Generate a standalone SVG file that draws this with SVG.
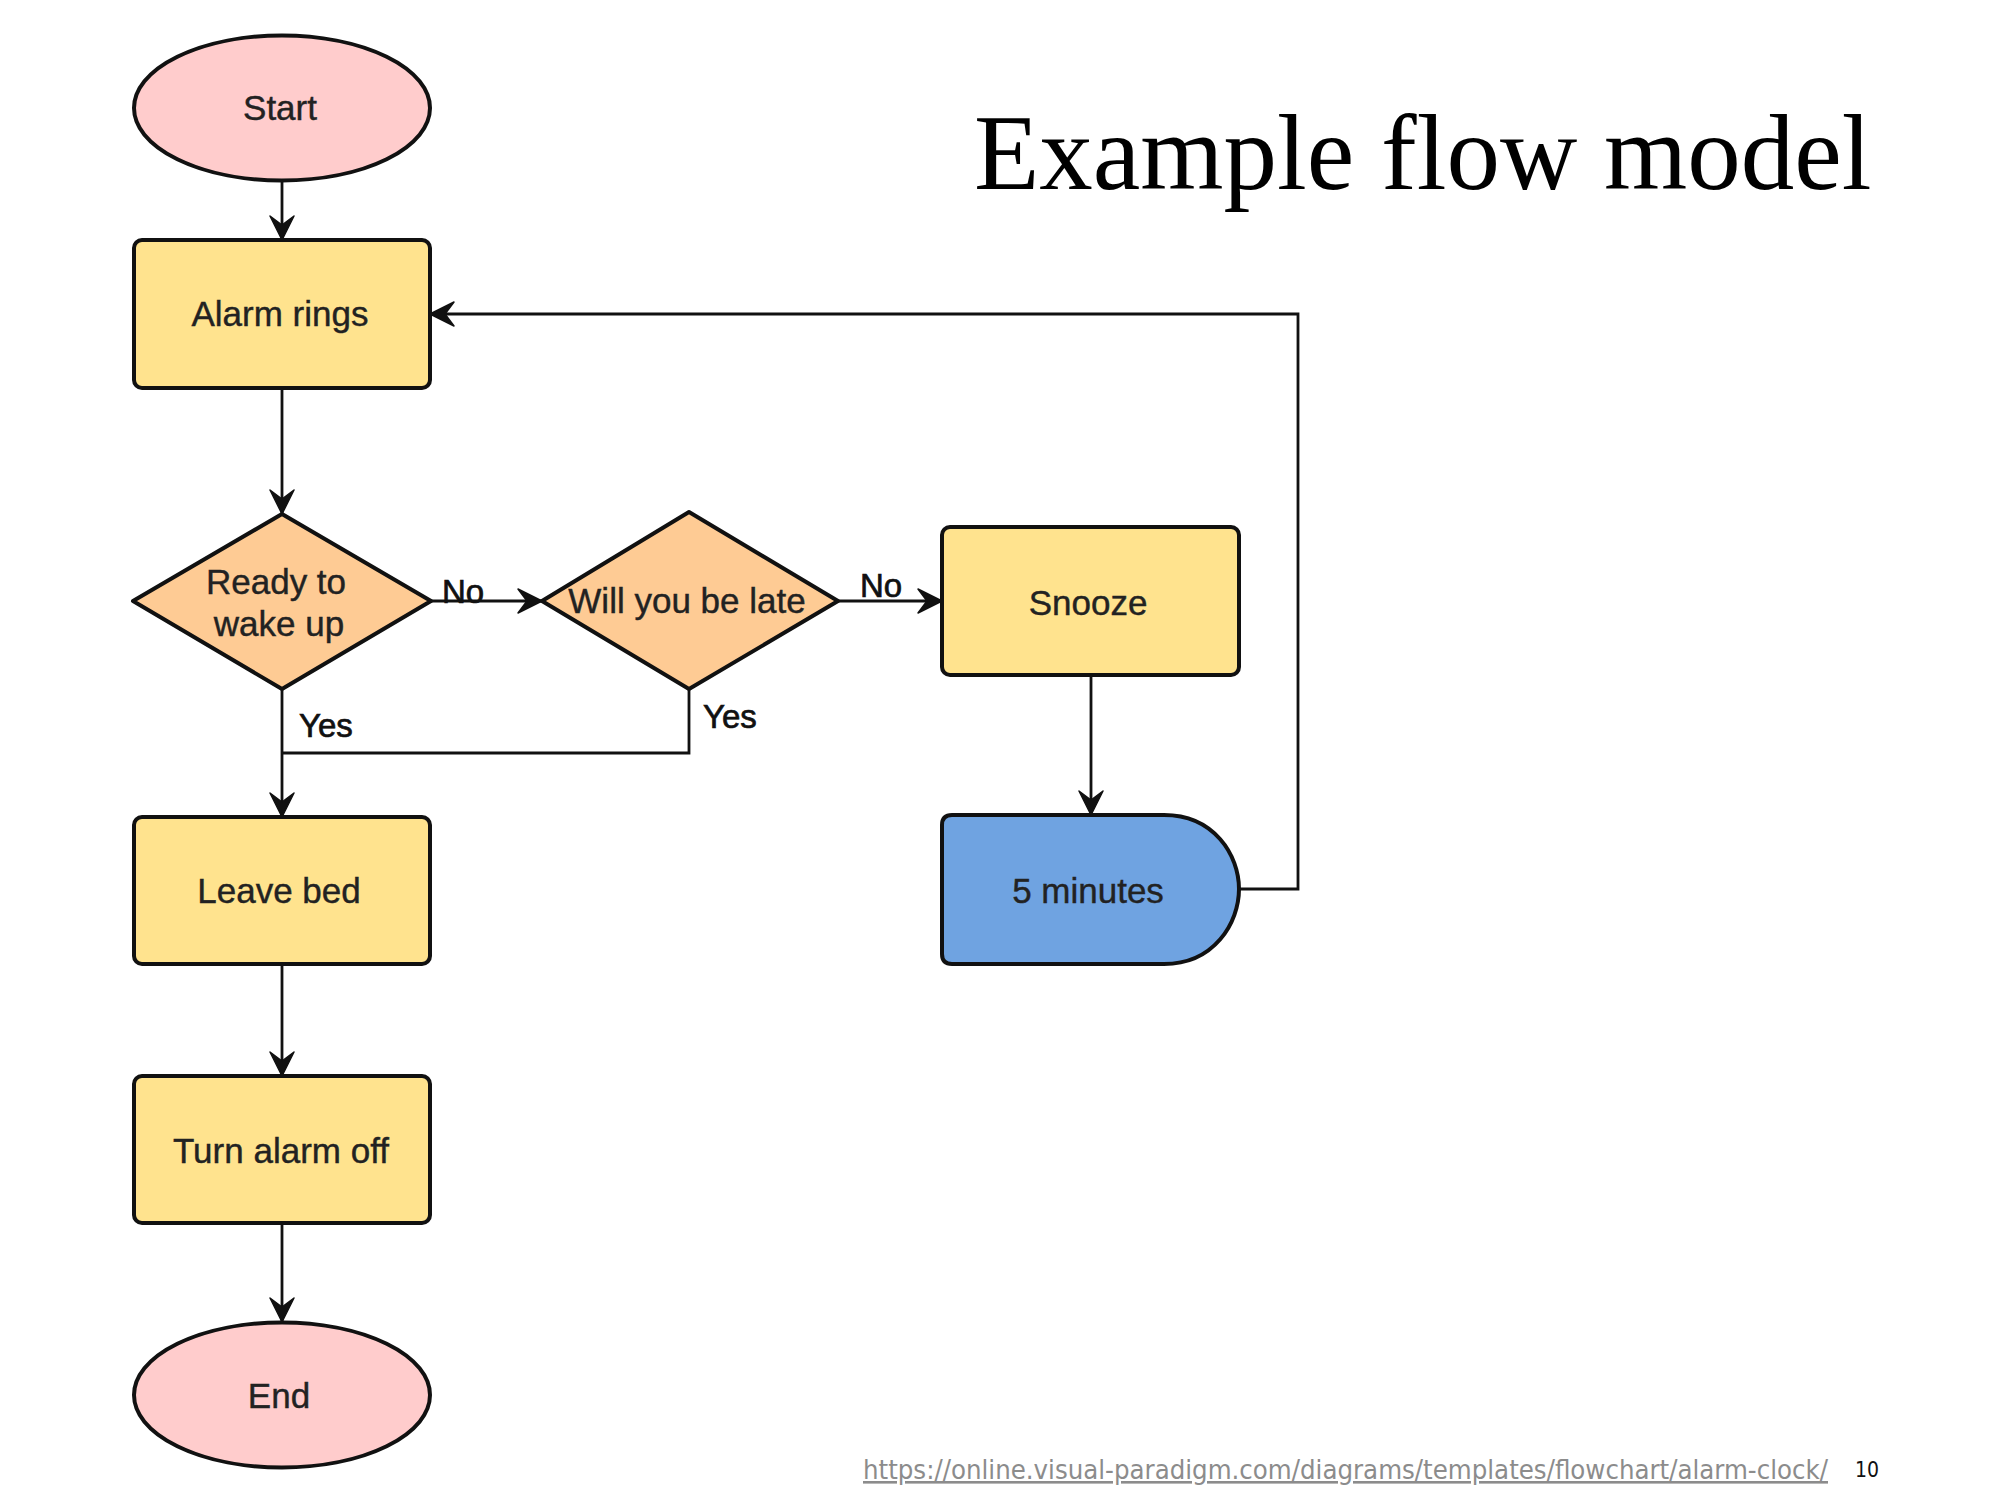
<svg xmlns="http://www.w3.org/2000/svg" width="2000" height="1500" viewBox="0 0 2000 1500">
<style>
.n{stroke:#111;stroke-width:4;stroke-linejoin:round}
.term{fill:#ffcccc}
.proc{fill:#ffe38e}
.dec{fill:#fecb94}
.delay{fill:#6fa3e1}
.t{font-family:"Liberation Sans",Arial,sans-serif;font-size:35px;fill:#222;stroke:#222;stroke-width:0.4;text-anchor:middle}
.lbl{font-family:"Liberation Sans",Arial,sans-serif;font-size:33px;fill:#111;stroke:#111;stroke-width:0.7}
.c{fill:none;stroke:#111;stroke-width:2.8}
.a{marker-end:url(#arr)}
</style>
<defs>
<marker id="arr" markerUnits="userSpaceOnUse" viewBox="-26 -14 28 28" refX="0" refY="0" markerWidth="28" markerHeight="28" orient="auto">
<path d="M0,0 L-24,-12 L-15,0 L-24,12 Z" fill="#111" stroke="#111" stroke-width="1.5" stroke-linejoin="round"/>
</marker>
</defs>
<rect width="2000" height="1500" fill="#fff"/>
<text x="974" y="189" font-family="Liberation Serif,'Times New Roman',serif" font-size="107" fill="#000">Example flow model</text>
<g id="connectors">
<path class="c a" d="M282,180 V240"/>
<path class="c a" d="M282,388 V514"/>
<path class="c a" d="M431,601 H542"/>
<path class="c a" d="M838,601 H942"/>
<path class="c a" d="M1091,675 V815"/>
<path class="c a" d="M1239,889 H1298 V314 H430"/>
<path class="c a" d="M282,689 V817"/>
<path class="c" d="M689,689 V753 H282"/>
<path class="c a" d="M282,964 V1076"/>
<path class="c a" d="M282,1223 V1322"/>
<text class="lbl" x="442" y="603">No</text>
<text class="lbl" x="860" y="597">No</text>
<text class="lbl" x="299" y="737">Yes</text>
<text class="lbl" x="703" y="728">Yes</text>
</g>
<g id="start">
<ellipse class="n term" cx="282" cy="108" rx="148" ry="72.5"/>
<text class="t" x="280" y="120">Start</text>
</g>
<g id="alarm-rings">
<rect class="n proc" x="134" y="240" width="296" height="148" rx="8"/>
<text class="t" x="280" y="326">Alarm rings</text>
</g>
<g id="ready">
<polygon class="n dec" points="133,601 282,514 431,601 282,689"/>
<text class="t" x="276" y="594">Ready to</text>
<text class="t" x="279" y="636">wake up</text>
</g>
<g id="will-late">
<polygon class="n dec" points="542,601 689,512 838,601 689,689"/>
<text class="t" x="687" y="613">Will you be late</text>
</g>
<g id="snooze">
<rect class="n proc" x="942" y="527" width="297" height="148" rx="8"/>
<text class="t" x="1088" y="615">Snooze</text>
</g>
<g id="five-minutes">
<path class="n delay" d="M952,815 H1164 C1214,815 1239,855 1239,889 C1239,923 1214,964 1164,964 H952 Q942,964 942,954 V825 Q942,815 952,815 Z"/>
<text class="t" x="1088" y="903">5 minutes</text>
</g>
<g id="leave-bed">
<rect class="n proc" x="134" y="817" width="296" height="147" rx="8"/>
<text class="t" x="279" y="903">Leave bed</text>
</g>
<g id="turn-off">
<rect class="n proc" x="134" y="1076" width="296" height="147" rx="8"/>
<text class="t" x="281" y="1163">Turn alarm off</text>
</g>
<g id="end">
<ellipse class="n term" cx="282" cy="1395" rx="148" ry="72.5"/>
<text class="t" x="279" y="1408">End</text>
</g>
<text x="863" y="1479" font-family="'DejaVu Sans Condensed','DejaVu Sans',sans-serif" font-size="26" fill="#8c8c8c" text-decoration="underline" textLength="965" lengthAdjust="spacingAndGlyphs">https://online.visual-paradigm.com/diagrams/templates/flowchart/alarm-clock/</text>
<text x="1855" y="1477" font-family="'DejaVu Sans Condensed','DejaVu Sans',sans-serif" font-size="21" fill="#111">10</text>
</svg>
